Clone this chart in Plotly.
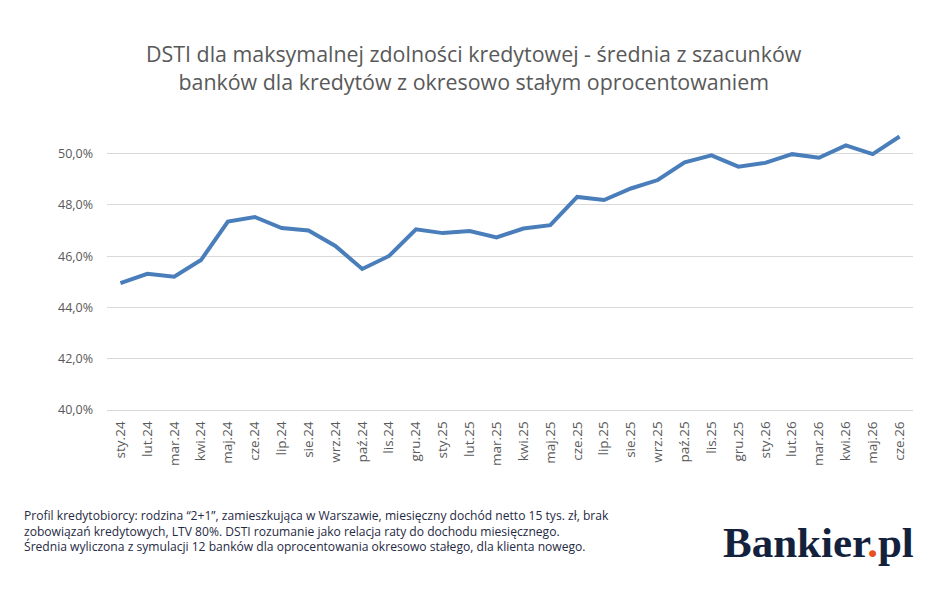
import plotly.graph_objects as go

categories = ["sty.24", "lut.24", "mar.24", "kwi.24", "maj.24", "cze.24", "lip.24", "sie.24",
              "wrz.24", "paź.24", "lis.24", "gru.24", "sty.25", "lut.25", "mar.25", "kwi.25",
              "maj.25", "cze.25", "lip.25", "sie.25", "wrz.25", "paź.25", "lis.25", "gru.25",
              "sty.26", "lut.26", "mar.26", "kwi.26", "maj.26", "cze.26"]
dsti_pct = [44.95, 45.31, 45.20, 45.85, 47.35, 47.53, 47.10, 47.00,
            46.40, 45.50, 46.01, 47.05, 46.90, 46.98, 46.73, 47.08,
            47.21, 48.31, 48.19, 48.64, 48.97, 49.66, 49.93, 49.49,
            49.64, 49.98, 49.84, 50.32, 49.98, 50.67]
y_ticks = [40, 42, 44, 46, 48, 50]
y_tick_labels = [f"{v:.1f}".replace(".", ",") + "%" for v in y_ticks]

title_text = ("DSTI dla maksymalnej zdolności kredytowej - średnia z szacunków<br>"
              "banków dla kredytów z okresowo stałym oprocentowaniem")
footer_text = ("Profil kredytobiorcy: rodzina “2+1”, zamieszkująca w Warszawie, miesięczny dochód netto 15 tys. zł, brak<br>"
               "zobowiązań kredytowych, LTV 80%. DSTI rozumanie jako relacja raty do dochodu miesięcznego.<br>"
               "Średnia wyliczona z symulacji 12 banków dla oprocentowania okresowo stałego, dla klienta nowego.")

W, H = 948, 589
L, R, T, B = 107, 35, 128, 179
PW, PH = W - L - R, H - T - B

def px(x):
    return (x - L) / PW

def py(y):
    return (H - B - y) / PH

FONT = "Open Sans, sans-serif"

fig = go.Figure()
fig.add_trace(go.Scatter(
    x=categories, y=dsti_pct, mode="lines",
    line=dict(color="#4a7ebb", width=4), hoverinfo="skip", showlegend=False))

fig.update_layout(
    width=W, height=H,
    margin=dict(l=L, r=R, t=T, b=B, pad=0),
    plot_bgcolor="white", paper_bgcolor="white",
    font=dict(family=FONT, color="#595959"),
    xaxis=dict(type="category", tickangle=-90, tickfont=dict(size=13.5, color="#595959"),
               showgrid=False, showline=True, linecolor="#d9d9d9", linewidth=1,
               ticks="", range=[-0.5, len(categories) - 0.5], ticklabelstandoff=5),
    yaxis=dict(range=[40, 51], tickvals=y_ticks, ticktext=y_tick_labels,
               tickfont=dict(size=12.5, color="#595959"),
               showgrid=True, gridcolor="#d9d9d9", gridwidth=1, zeroline=False,
               showline=False, ticklabelstandoff=13),
    annotations=[
        dict(text=title_text, x=px(474), y=py(67), xref="paper", yref="paper",
             xanchor="center", yanchor="middle", showarrow=False,
             font=dict(size=21.4, color="#595959", family=FONT)),
        dict(text=footer_text, x=px(22), y=py(531), xref="paper", yref="paper",
             xanchor="left", yanchor="middle", align="left", showarrow=False,
             font=dict(size=12.1, color="#1f2a44", family=FONT)),
        dict(text="<b>Bankier<span style='color:#e8501c'>.</span>pl</b>",
             x=px(818), y=py(542), xref="paper", yref="paper",
             xanchor="center", yanchor="middle", showarrow=False,
             font=dict(size=43, color="#14213d", family="Liberation Serif, serif")),
    ],
)

fig.write_html("out.html", config={"displayModeBar": False},
               post_script="document.body.style.margin='0';")
